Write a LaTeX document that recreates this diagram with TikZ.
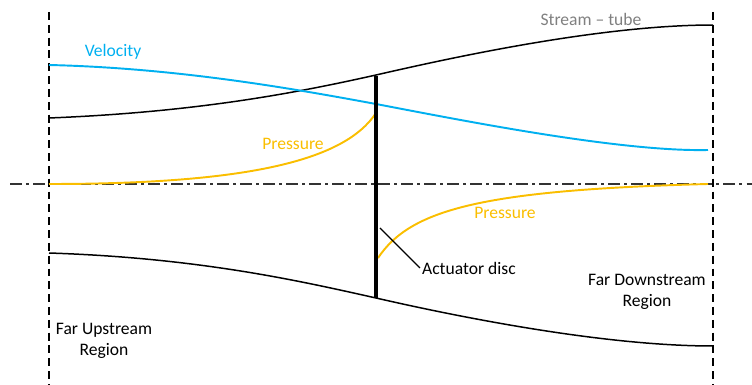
\documentclass[tikz,border=0pt]{standalone}
\usepackage{fontspec}
\setmainfont{Carlito}
\usepackage{tikz}
\usetikzlibrary{calc}
\definecolor{velblue}{RGB}{0,176,240}
\definecolor{presgold}{RGB}{250,190,0}
\definecolor{tubegray}{RGB}{128,128,128}

\begin{document}
\begin{tikzpicture}[x=0.02cm,y=-0.02cm,
  font=\fontsize{10}{12}\selectfont,
  region/.style={line width=1.1pt,dash pattern=on 4.5pt off 2.8pt},
  axisline/.style={line width=0.8pt,black!80,dash pattern=on 6.8pt off 2.3pt on 1.7pt off 2.3pt},
  tubeline/.style={line width=0.85pt},
  velline/.style={line width=1.1pt,velblue},
  presline/.style={line width=1.1pt,presgold},
  lbl/.style={inner sep=1pt,align=center}]
\useasboundingbox (0,0) rectangle (752,385);
% Regiones
\draw[region] (49,12) -- (49,385);
\draw[region] (713,12) -- (713,385);
\draw[axisline] (10,184) -- (752,184);
% Tubo de corriente
\draw[tubeline] (49,118) .. controls (200,112) and (300,92) .. (376,75)
  .. controls (450,58) and (600,25) .. (713,25);
\draw[tubeline] (49,253) .. controls (200,258) and (300,281) .. (376,298)
  .. controls (450,315) and (600,346) .. (713,346);
% Velocidad y presion
\draw[velline] (49,65) .. controls (180,68) and (300,90) .. (376,104)
  .. controls (460,120) and (620,152) .. (708,150);
\draw[presline] (49,184) .. controls (250,184) and (345,160) .. (376,113);
\draw[presline] (378,258) .. controls (410,210) and (480,190) .. (708,184);
% Disco
\coordinate (disctop) at (376,76);
\coordinate (discbot) at (376,298);
\coordinate (discpt) at (380,228);
\draw[line width=2.3pt] (disctop) -- (discbot);
% Textos
\node[lbl,velblue] (vel) at (113,52) {Velocity};
\node[lbl,presgold] (presup) at (293,144) {Pressure};
\node[lbl,presgold] (presdown) at (505,213) {Pressure};
\node[lbl,tubegray] (tube) at (591,19) {Stream – tube};
\node[lbl,anchor=west] (act) at (420,268) {Actuator disc};
\node[lbl] (upstream) at (104,341) {Far Upstream\\Region};
\node[lbl] (downstream) at (647,292) {Far Downstream\\Region};
\draw[line width=0.7pt] (discpt) -- (act.west);
\end{tikzpicture}
\end{document}
